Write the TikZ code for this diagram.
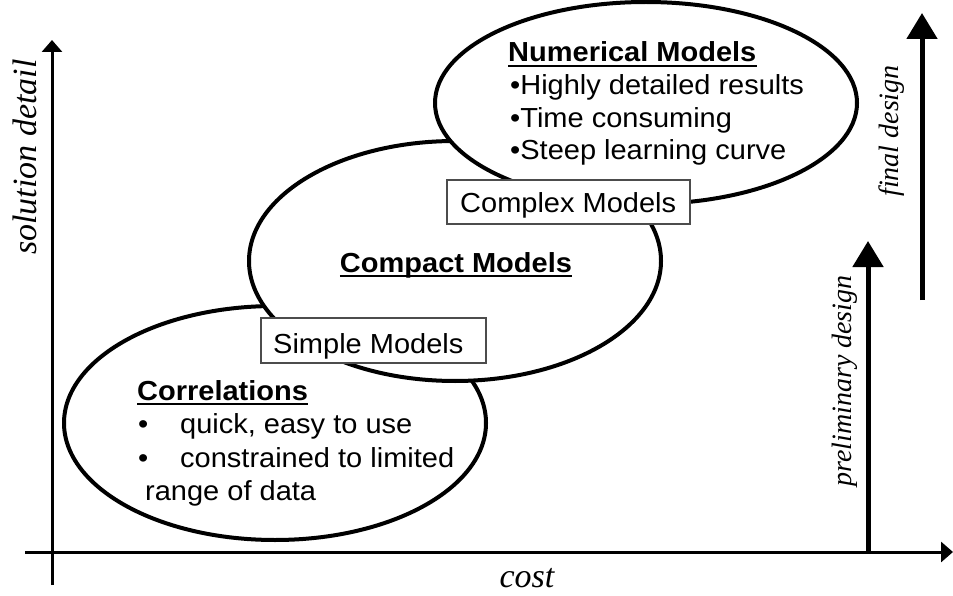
\documentclass[tikz,border=0pt]{standalone}
\usepackage{fontspec}
\setmainfont{Liberation Serif}
\setsansfont{Liberation Sans}
\usetikzlibrary{shapes.geometric,arrows.meta}
\begin{document}
\begin{tikzpicture}[x=1pt,y=1pt,
  bubble/.style={ellipse, draw, line width=4pt, fill=white, inner sep=0pt},
  modelbox/.style={draw=black!70, line width=1.2pt, fill=white, inner sep=0pt},
  txt/.style={inner sep=0pt, anchor=base west, font=\sffamily\fontsize{29}{33}\selectfont},
  ttl/.style={txt, font=\sffamily\bfseries\fontsize{29}{33}\selectfont},
  uline/.style={line width=2.4pt},
  biglabel/.style={inner sep=0pt, font=\rmfamily\itshape\fontsize{34}{40}\selectfont},
  phaselabel/.style={inner sep=0pt, font=\rmfamily\itshape\fontsize{28}{34}\selectfont},
  axis/.style={line width=3pt, -{Triangle[length=12pt,width=20pt]}},
  phase/.style={line width=5pt, -{Triangle[length=26pt,width=30pt]}}
]
\useasboundingbox (0,0) rectangle (953,-596);
\newcommand{\sq}[1]{\scalebox{1}[0.95]{#1}}

% axes
\coordinate (ybot) at (52,-585);
\coordinate (ytop) at (52,-40);
\coordinate (xleft) at (25,-552);
\coordinate (xright) at (953,-552);
\draw[axis] (ybot) -- (ytop);
\draw[axis] (xleft) -- (xright);

% design phase arrows
\coordinate (pbot) at (868,-552);
\coordinate (ptop) at (868,-241);
\coordinate (fbot) at (922,-300);
\coordinate (ftop) at (922,-13);
\draw[phase] (pbot) -- (ptop);
\draw[phase] (fbot) -- (ftop);

% axis and phase labels
\node[biglabel, rotate=90] (sd) at (25,-157) {solution detail};
\node[biglabel, anchor=base] (cost) at (527,-587) {cost};
\node[phaselabel, rotate=90] (fd) at (892,-131) {final design};
\node[phaselabel, rotate=90] (pd) at (845,-381) {preliminary design};

% model regions
\node[bubble, minimum width=422pt, minimum height=234pt] (corr) at (275,-423) {};
\node[bubble, minimum width=412pt, minimum height=240pt] (comp) at (455,-261) {};
\node[bubble, minimum width=422pt, minimum height=202pt] (numr) at (646,-103) {};

% transition boxes
\node[modelbox, minimum width=225pt, minimum height=45pt] (simplebox) at (373.5,-340.5) {};
\node[txt] (simple) at (273,-353) {\sq{Simple Models}};
\node[modelbox, minimum width=243pt, minimum height=44pt] (complexbox) at (568.5,-202) {};
\node[txt] (complex) at (460,-213) {\sq{Complex Models}};

% numerical models
\node[ttl] (nt) at (508,-62) {\sq{Numerical Models}};
\draw[uline] ([yshift=-4pt]nt.base west) -- ([yshift=-4pt]nt.base east);
\node[txt] (n1) at (510,-95) {\sq{•Highly detailed results}};
\node[txt] (n2) at (510,-128) {\sq{•Time consuming}};
\node[txt] (n3) at (510,-160) {\sq{•Steep learning curve}};

% compact models
\node[ttl, anchor=base] (ct) at (456,-272) {\sq{Compact Models}};
\draw[uline] ([yshift=-4pt]ct.base west) -- ([yshift=-4pt]ct.base east);

% correlations
\node[ttl] (rt) at (137,-400) {\sq{Correlations}};
\draw[uline] ([yshift=-4pt]rt.base west) -- ([yshift=-4pt]rt.base east);
\node[txt] (b1) at (138,-433) {\sq{•}};
\node[txt] (r1) at (180,-433) {\sq{quick, easy to use}};
\node[txt] (b2) at (138,-467) {\sq{•}};
\node[txt] (r2) at (180,-467) {\sq{constrained to limited}};
\node[txt] (r3) at (145,-500) {\sq{range of data}};
\end{tikzpicture}
\end{document}
